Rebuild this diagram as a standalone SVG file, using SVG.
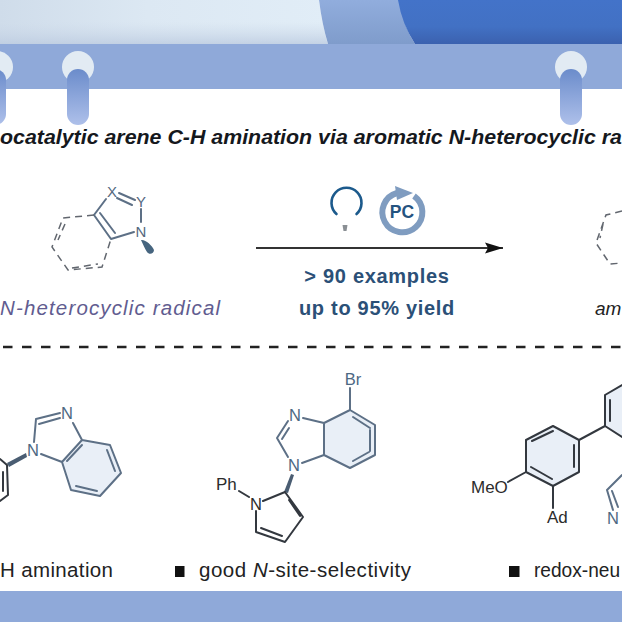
<svg xmlns="http://www.w3.org/2000/svg" width="622" height="622" viewBox="0 0 622 622">
<style>
.t{font-family:"Liberation Sans",Arial,sans-serif}
.b{fill:none;stroke:#33383f;stroke-width:2;stroke-linecap:round;stroke-linejoin:round}
.s{fill:none;stroke:#5d7086;stroke-width:2;stroke-linecap:round;stroke-linejoin:round}
.d{fill:none;stroke:#62676f;stroke-width:1.5;stroke-dasharray:7 5}
.a{font-size:15px;fill:#55697f}
.n{font-size:16.5px;fill:#4d6883}
.k{font-size:17px;fill:#2c2c2c}
.l{font-size:20.5px;fill:#222}
.h{fill:#e9eff7}
</style>
<defs>
<linearGradient id="pale" x1="0" y1="0" x2="1" y2="0"><stop offset="0" stop-color="#cfdcea"/><stop offset="0.45" stop-color="#dce8f3"/><stop offset="1" stop-color="#e1edf7"/></linearGradient>
<linearGradient id="fade" x1="0" y1="0" x2="0" y2="1"><stop offset="0" stop-color="#cbd8e8" stop-opacity="0"/><stop offset="1" stop-color="#bccbe0" stop-opacity="0.8"/></linearGradient>
<linearGradient id="mid" x1="0" y1="0" x2="0" y2="1"><stop offset="0" stop-color="#91addd"/><stop offset="1" stop-color="#7f9ccb"/></linearGradient>
<linearGradient id="dark" x1="0" y1="0" x2="0" y2="1"><stop offset="0" stop-color="#4373c9"/><stop offset="0.6" stop-color="#4271c4"/><stop offset="1" stop-color="#3b61af"/></linearGradient>
<linearGradient id="pill" x1="0" y1="0" x2="0" y2="1"><stop offset="0" stop-color="#6b8ccb"/><stop offset="1" stop-color="#aec0ea"/></linearGradient>
<marker id="head" markerWidth="20" markerHeight="12" refX="18" refY="6" orient="auto" markerUnits="userSpaceOnUse"><path d="M0 0.5L18 6L0 11.5L3 6Z" fill="#111"/></marker>
</defs>

<g id="header">
<rect width="622" height="622" fill="#fff"/>
<path d="M0 0H319Q322 24 328 44H0Z" fill="url(#pale)"/>
<path d="M0 22H323Q325 36 328 44H0Z" fill="url(#fade)"/>
<path d="M319 0H400Q403 26 415 44H328Q322 24 319 0Z" fill="url(#mid)"/>
<path d="M398 0H622V44H415Q402 24 398 0Z" fill="url(#dark)"/>
<rect y="44" width="622" height="45" fill="#8fa9d9"/>
<rect y="591" width="622" height="31" fill="#8fa9d9"/>
</g>

<g id="binder-rings">
<circle cx="-3" cy="67" r="16" fill="#e2ebf3"/><circle cx="78" cy="67" r="16" fill="#e2ebf3"/><circle cx="571" cy="67" r="16" fill="#e2ebf3"/>
<rect x="-16" y="69" width="22" height="56" rx="11" fill="url(#pill)"/>
<rect x="67" y="69" width="22" height="56" rx="11" fill="url(#pill)"/>
<rect x="560" y="69" width="22" height="56" rx="11" fill="url(#pill)"/>
</g>

<text id="title" class="t" x="0" y="144" font-size="20.500" font-weight="700" font-style="italic" fill="#15181d" textLength="622" lengthAdjust="spacingAndGlyphs">ocatalytic arene C-H amination via aromatic N-heterocyclic ra</text>

<g id="radical">
<path class="s" d="M94 215L111 239L134 232M100 213L115 233M94 215L106 199M119 193L135 200M117 198L132 205M141 209V222"/>
<path class="d" d="M94 215L63 218L52 247L68 270L102 267L111 239M65 224L58 240M72 268L98 264"/>
<text class="t a" x="112" y="197" text-anchor="middle">X</text>
<text class="t a" x="141" y="207" text-anchor="middle">Y</text>
<text class="t a" x="141" y="237" text-anchor="middle">N</text>
<path d="M141 240C145 239 152 245 154 250C154 254 149 255 147 252C145 249 143 244 141 240Z" fill="#46657f"/>
<text class="t" x="0" y="315" font-size="20.500" font-style="italic" fill="#615c90" textLength="220">N-heterocyclic radical</text>
</g>

<g id="reaction-conditions">
<path d="M336.500 214A15 15 0 1 1 356.500 214" fill="none" stroke="#1c5a8c" stroke-width="2.600" stroke-linecap="round"/>
<path d="M342.500 225H347.500L346.500 231H343.500Z" fill="#8a8f94"/>
<path d="M414 196A20 20 0 1 1 397 193" fill="none" stroke="#7f9cc0" stroke-width="6"/>
<path d="M395 186L413 193L397 200Z" fill="#7f9cc0"/>
<text class="t" x="402" y="218" text-anchor="middle" font-size="17.500" font-weight="700" fill="#245380">PC</text>
<text class="t" x="377" y="283" text-anchor="middle" font-size="20" font-weight="700" fill="#2b5077" letter-spacing=".7">&gt; 90 examples</text>
<text class="t" x="377" y="315" text-anchor="middle" font-size="20" font-weight="700" fill="#2b5077" letter-spacing=".7">up to 95% yield</text>
</g>

<g id="connectors">
<line x1="256" y1="248" x2="503" y2="248" stroke="#333" stroke-width="2" marker-end="url(#head)"/>
<line x1="3" y1="347" x2="622" y2="347" stroke="#222" stroke-width="2.400" stroke-dasharray="9.500 9.500"/>
</g>

<g id="amine-product">
<path class="d" d="M622 211L606 215L596 243L610 264L622 263M603 224L600 238"/>
<text class="t" x="595" y="315" font-size="19" font-style="italic" fill="#222">am</text>
</g>

<g id="compound-1">
<polygon class="h" points="82,440 110,445 121,473 100,496 71,490 62,462"/>
<path class="s" d="M62 462L71 490L100 496L121 473L110 445L82 440L62 462M82 440L73 423M62 462L41 454M34 442L36 419L60 413M39 424L60 418M76 486L97 491M115 471L107 450M67 461L82 445"/>
<text class="t n" x="33" y="456" text-anchor="middle">N</text>
<text class="t n" x="67" y="419" text-anchor="middle">N</text>
<path d="M26 453L7 463L9 467L27 457Z" fill="#4a5d72"/>
<path class="b" d="M0 459L7 465L8 495L0 501M3 472V491"/>
<text class="t l" x="0" y="577" textLength="113">H amination</text>
</g>

<g id="compound-2">
<polygon class="h" points="350,410 375,425 375,455 350,468 324,455 324,423"/>
<path class="s" d="M350 388V410L375 425V455L350 468L324 455V423L350 410M353 417L370 428M370 430V451M353 461L369 452M324 423L303 418M324 455L302 463M288 421L277 438L288 457M289 428L282 439"/>
<text class="t n" x="353" y="385" text-anchor="middle">Br</text>
<text class="t n" x="295" y="421" text-anchor="middle">N</text>
<text class="t n" x="294" y="471" text-anchor="middle">N</text>
<path d="M291 474L294 475L288 493L284 492Z" fill="#4a5d72"/>
<path class="b" d="M239 491L249 497M263 501L285 492L303 517L285 542L256 532L256 511M289 500L300 516M282 536L261 528"/>
<text class="t k" x="216" y="490">Ph</text>
<text class="t" x="256" y="510" font-size="16.500" fill="#2c2c2c" text-anchor="middle">N</text>
<rect x="175" y="566" width="9.500" height="11" fill="#111"/>
<text class="t l" x="199" y="577" textLength="212">good <tspan font-style="italic">N</tspan>-site-selectivity</text>
</g>

<g id="compound-3">
<polygon class="h" points="553,426 579,440 579,472 553,486 526,472 526,440"/>
<polygon class="h" points="605,395 622,385 622,437 605,426"/>
<path class="b" d="M553 426L579 440V472L553 486L526 472V440ZM532 441L553 431M574 445V467M531 467L552 479M579 440L605 426V395L622 385M610 400V421M605 426L622 437M553 486V508M526 472L508 482"/>
<path class="s" d="M622 475L607 490L613 510M612 491L618 507"/>
<text class="t k" x="471" y="493">MeO</text>
<text class="t k" x="547" y="523">Ad</text>
<text class="t n" x="613" y="524" text-anchor="middle">N</text>
<rect x="509" y="566" width="10.500" height="11" fill="#111"/>
<text class="t l" x="534" y="577" textLength="86" lengthAdjust="spacingAndGlyphs">redox-neu</text>
</g>
</svg>
